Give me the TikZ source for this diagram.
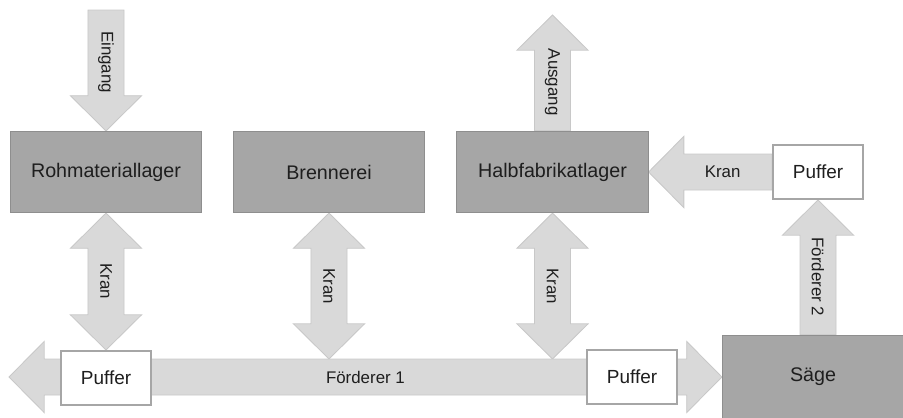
\documentclass[tikz,border=0pt]{standalone}
\usepackage{fontspec}
\setmainfont{Liberation Sans}
\usetikzlibrary{calc,backgrounds}

\definecolor{boxgray}{HTML}{A6A6A6}
\definecolor{boxline}{HTML}{8E8E8E}
\definecolor{arrowgray}{HTML}{D9D9D9}
\definecolor{arrowline}{HTML}{C8C8C8}
\definecolor{textgray}{HTML}{1E1E1E}

\newcommand{\shaftw}{0.45cm}
\newcommand{\headw}{0.89cm}
\newcommand{\headl}{0.88cm}

\tikzset{
  station/.style={draw=boxline, fill=boxgray, line width=0.7pt,
    minimum width=4.78cm, minimum height=2.03cm, text=textgray,
    font=\fontsize{14}{16}\selectfont},
  puffer/.style={draw=boxgray, fill=white, line width=1.4pt,
    minimum width=2.25cm, minimum height=1.35cm, text=textgray,
    font=\fontsize{13.5}{16}\selectfont},
  lbl/.style={text=textgray, inner sep=0pt, font=\fontsize{12}{14}\selectfont},
  blockarrow/.style={fill=arrowgray, draw=arrowline, line width=0.6pt},
  single block/.style={blockarrow, to path={
    let \p1=(\tikztostart), \p2=(\tikztotarget),
        \n2={atan2(\y2-\y1,\x2-\x1)},
        \p4=($(\p2)-(\n2:\headl)$) in
    ($(\p1)+({\n2+90}:\shaftw)$) -- ($(\p4)+({\n2+90}:\shaftw)$)
    -- ($(\p4)+({\n2+90}:\headw)$) -- (\p2)
    -- ($(\p4)+({\n2-90}:\headw)$) -- ($(\p4)+({\n2-90}:\shaftw)$)
    -- ($(\p1)+({\n2-90}:\shaftw)$) -- cycle}},
  double block/.style={blockarrow, to path={
    let \p1=(\tikztostart), \p2=(\tikztotarget),
        \n2={atan2(\y2-\y1,\x2-\x1)},
        \p3=($(\p1)+(\n2:\headl)$),
        \p4=($(\p2)-(\n2:\headl)$) in
    (\p1) -- ($(\p3)+({\n2+90}:\headw)$) -- ($(\p3)+({\n2+90}:\shaftw)$)
    -- ($(\p4)+({\n2+90}:\shaftw)$) -- ($(\p4)+({\n2+90}:\headw)$) -- (\p2)
    -- ($(\p4)+({\n2-90}:\headw)$) -- ($(\p4)+({\n2-90}:\shaftw)$)
    -- ($(\p3)+({\n2-90}:\shaftw)$) -- ($(\p3)+({\n2-90}:\headw)$) -- cycle}},
}

\begin{document}
\begin{tikzpicture}[x=0.025cm, y=-0.025cm]
    \path[use as bounding box, clip] (0,0) rectangle (903,417);
    % Lager und Maschinen
    \node[station] (roh) at (106,172) {Rohmateriallager};
    \node[station] (bren) at (329,172) {Brennerei};
    \node[station] (halb) at (552.5,172) {Halbfabrikatlager};
    \node[station, minimum width=4.53cm, minimum height=2.08cm] (saege) at (813,377) {Säge};
    % Puffer
    \node[puffer] (puf1) at (106,378) {Puffer};
    \node[puffer] (puf2) at (632,377) {Puffer};
    \node[puffer] (puf3) at (818,172) {Puffer};
    % freie Enden
    \coordinate (ein) at (106,10);
    \coordinate (aus) at (552.5,15);
    \coordinate (links) at (9,377);
    \coordinate (k2) at (329,359);
    \coordinate (k3) at (552.5,359);

    \begin{scope}[on background layer]
        \draw[single block] (ein) to (roh.north);
        \draw[single block] (halb.north) to (aus);
        \draw[double block] (roh.south) to (puf1.north);
        \draw[double block] (bren.south) to (k2);
        \draw[double block] (halb.south) to (k3);
        \draw[double block] (links) to (saege.west);
        \draw[single block] (puf3.west) to (halb.east);
        \draw[single block] (saege.north -| puf3) to (puf3.south);
    \end{scope}

    \node[lbl, rotate=-90] (l-ein) at ($(ein)!0.43!(roh.north)$) {Eingang};
    \node[lbl, rotate=-90] (l-aus) at ($(halb.north)!0.42!(aus)$) {Ausgang};
    \node[lbl, rotate=-90] (l-kran1) at ($(roh.south)!0.5!(puf1.north)$) {Kran};
    \node[lbl, rotate=-90] (l-kran2) at ($(bren.south)!0.5!(k2)$) {Kran};
    \node[lbl, rotate=-90] (l-kran3) at ($(halb.south)!0.5!(k3)$) {Kran};
    \node[lbl] (l-kran4) at ($(puf3.west)!0.4!(halb.east)$) {Kran};
    \node[lbl] (l-f1) at ($(links)!0.5!(saege.west)$) {Förderer 1};
    \node[lbl, rotate=-90] (l-f2) at ($(saege.north -| puf3)!0.43!(puf3.south)$) {Förderer 2};
\end{tikzpicture}
\end{document}
